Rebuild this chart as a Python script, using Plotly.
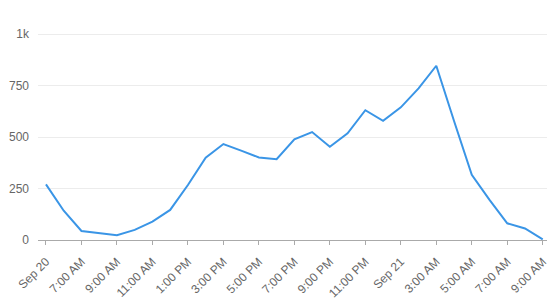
import plotly.graph_objects as go

hours = list(range(29))
values = [270, 142, 44, 34, 23, 49, 89, 146, 267, 400, 466, 434, 401, 392, 489,
          524, 453, 518, 630, 579, 644, 736, 846, 578, 316, 195, 81, 56, 3]
tick_hours = [0, 2, 4, 6, 8, 10, 12, 14, 16, 18, 20, 22, 24, 26, 28]
tick_labels = ["Sep 20", "7:00 AM", "9:00 AM", "11:00 AM", "1:00 PM", "3:00 PM",
               "5:00 PM", "7:00 PM", "9:00 PM", "11:00 PM", "Sep 21", "3:00 AM",
               "5:00 AM", "7:00 AM", "9:00 AM"]
y_ticks = [0, 250, 500, 750, 1000]
y_labels = ["0", "250", "500", "750", "1k"]

fig = go.Figure(go.Scatter(x=hours, y=values, mode="lines",
                           line=dict(color="#3a95e6", width=2)))
fig.update_layout(
    width=557, height=301,
    margin=dict(l=38, r=10, t=33, b=61, autoexpand=False),
    paper_bgcolor="white", plot_bgcolor="white",
    showlegend=False,
    font=dict(family="Arial, Liberation Sans, sans-serif", size=12, color="#666"),
)
fig.update_xaxes(
    range=[-0.45, 28.24], tickvals=tick_hours, ticktext=tick_labels,
    tickangle=-45, showgrid=False, zeroline=False, automargin=False,
    showline=True, linecolor="#aaa", linewidth=1,
    ticks="outside", ticklen=4, tickcolor="#aaa", ticklabelstandoff=5,
    tickfont=dict(size=12, color="#666"),
)
fig.update_yaxes(
    range=[0, 1005], tickvals=y_ticks, ticktext=y_labels, automargin=False,
    showgrid=True, gridcolor="#ececec", gridwidth=1, zeroline=False,
    showline=False, ticks="", ticklabelstandoff=8,
    tickfont=dict(size=12, color="#666"),
)
fig.write_html("out.html")
